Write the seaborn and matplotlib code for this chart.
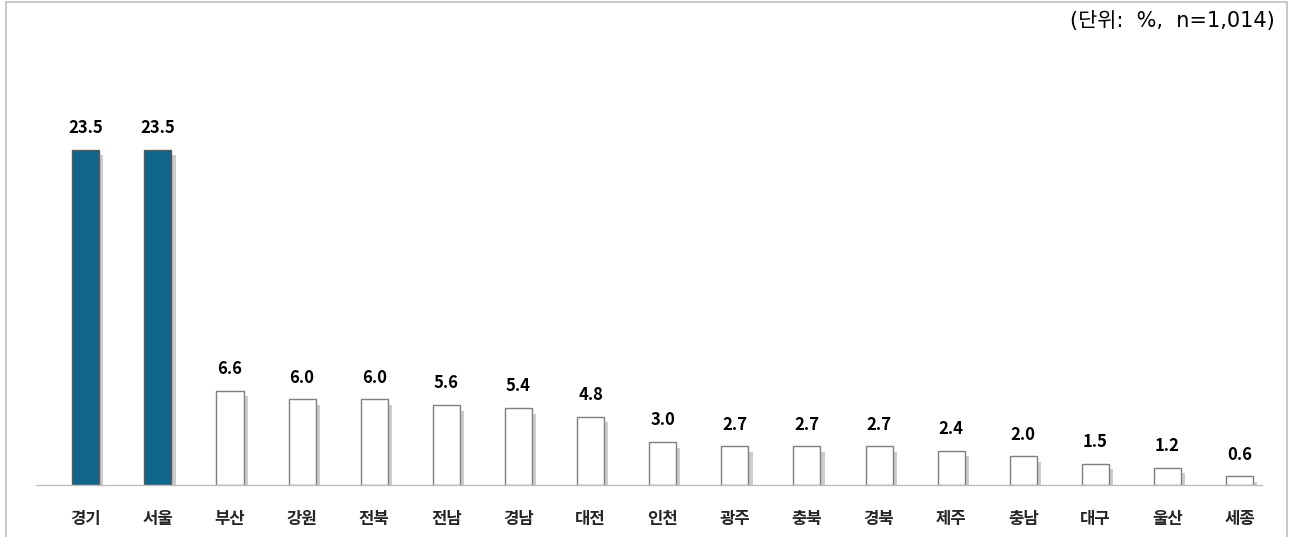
import numpy as np
import pandas as pd
import matplotlib
matplotlib.use("Agg")
import matplotlib.pyplot as plt
import matplotlib.patheffects as pe
import seaborn as sns

regions = ["경기", "서울", "부산", "강원", "전북", "전남", "경남", "대전", "인천",
           "광주", "충북", "경북", "제주", "충남", "대구", "울산", "세종"]
values = [23.5, 23.5, 6.6, 6.0, 6.0, 5.6, 5.4, 4.8, 3.0,
          2.7, 2.7, 2.7, 2.4, 2.0, 1.5, 1.2, 0.6]
highlight = ["경기", "서울"]

sns.set_style("white")
plt.rcParams["font.family"] = ["Noto Sans CJK KR", "DejaVu Sans"]

df = pd.DataFrame({"region": regions, "value": values})
colors = ["#10668a" if r in highlight else "white" for r in regions]

fig = plt.figure(figsize=(12.91, 5.37), dpi=100)
ax = fig.add_axes([36 / 1291, 52 / 537, 1226 / 1291, 428 / 537])

sns.barplot(data=df, x="region", y="value", hue="region", palette=colors,
            legend=False, width=0.375, ax=ax, saturation=1)

# grey drop shadow on the right side of each bar
for p, r in zip(ax.patches, regions):
    p.set_edgecolor("#595959" if r in highlight else "#7f7f7f")
    p.set_linewidth(1.0)
    p.set_path_effects([pe.SimplePatchShadow(offset=(3, -4), shadow_rgbFace="#aaaaaa", alpha=0.6),
                        pe.Normal()])

for i, v in enumerate(values):
    ax.text(i, v + 0.9, f"{v:.1f}", ha="center", va="bottom",
            fontsize=12, fontweight="bold", color="black")

n = len(regions)
ax.set_xlim(-0.69, n - 0.69)
ax.set_ylim(0, 30)
ax.set_xticks(range(n))
ax.set_xticklabels(regions, fontsize=12, fontweight="bold")
ax.tick_params(axis="x", which="major", length=0, pad=18)
ax.set_xticks(np.arange(n + 1) - 0.69, minor=True)
ax.tick_params(axis="x", which="minor", length=6, color="#bfbfbf", width=1)
ax.set_yticks([])
ax.set_xlabel("")
ax.set_ylabel("")
for s in ["top", "right", "left"]:
    ax.spines[s].set_visible(False)
ax.spines["bottom"].set_color("#bfbfbf")
ax.spines["bottom"].set_linewidth(1)

fig.text(1275 / 1291, 1 - 21 / 537, "(단위:  %,  n=1,014)", ha="right", va="center",
         fontsize=15, color="black", family=["DejaVu Sans", "Noto Sans CJK KR"])

fig.patches.append(plt.Rectangle((6 / 1291, -0.1), 1281 / 1291, 1.1 - 2 / 537,
                                 transform=fig.transFigure, fill=False,
                                 edgecolor="#bfbfbf", linewidth=1.2))

fig.savefig("out.png", dpi=100)
